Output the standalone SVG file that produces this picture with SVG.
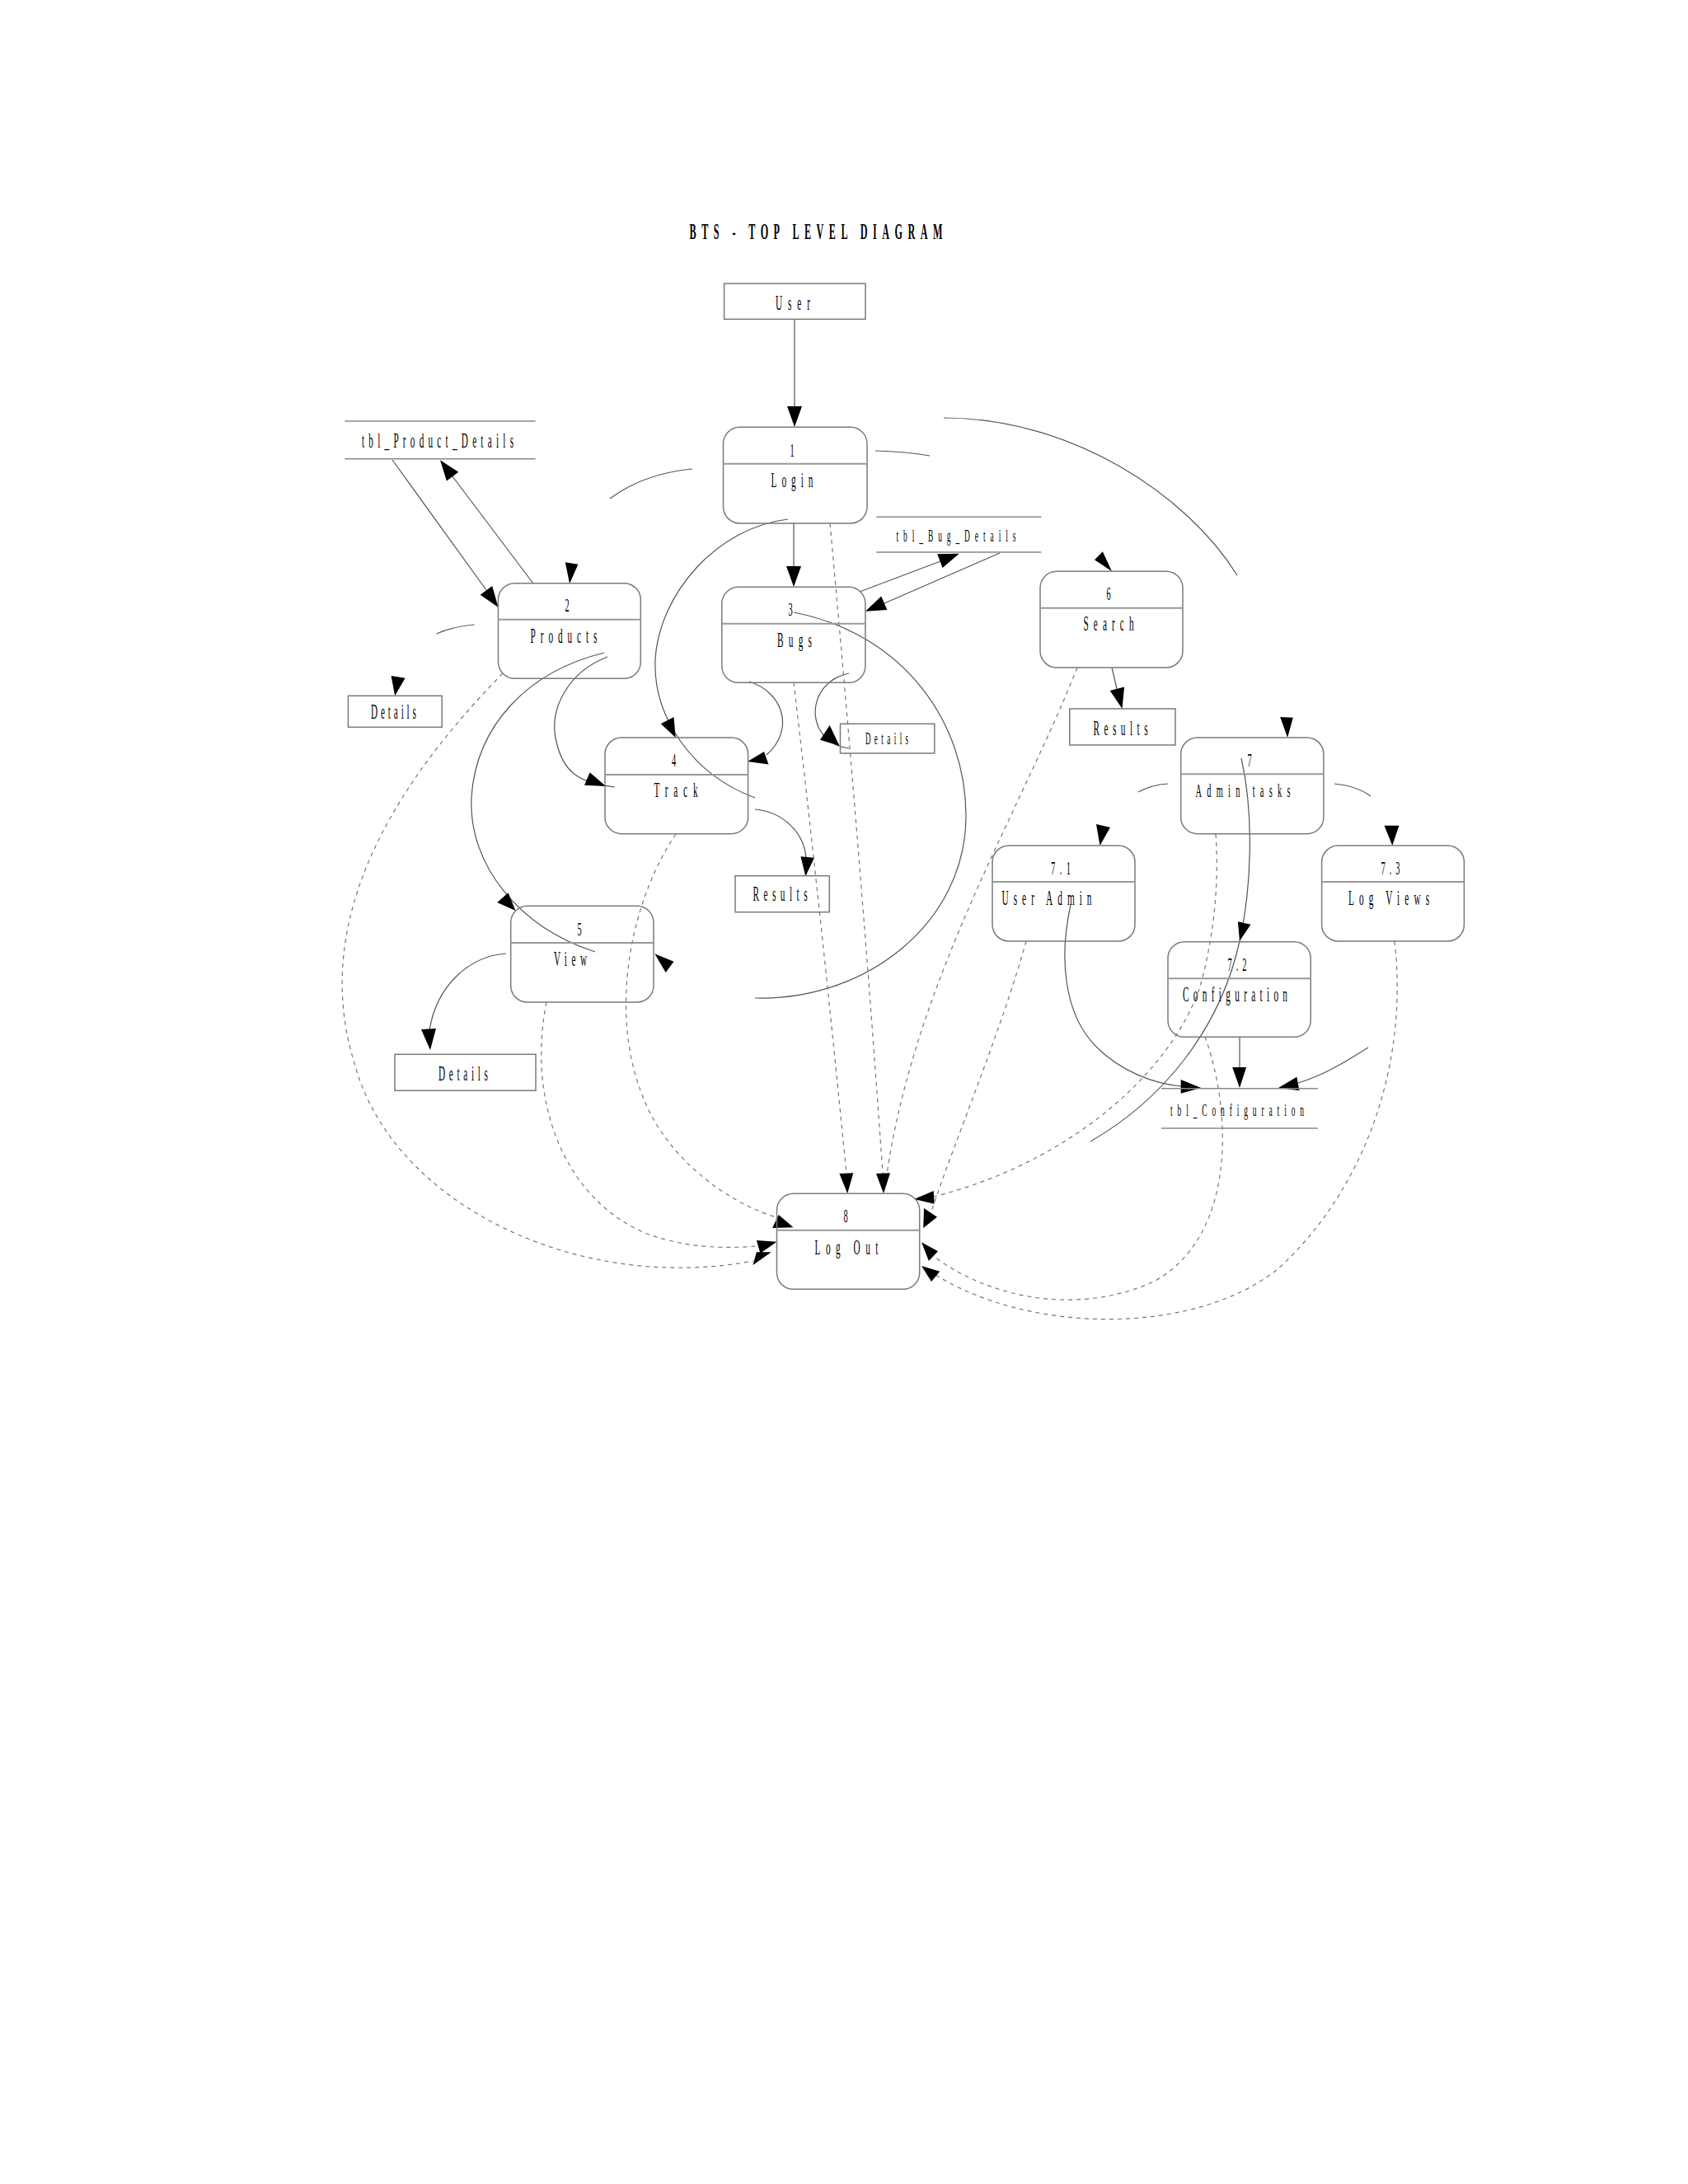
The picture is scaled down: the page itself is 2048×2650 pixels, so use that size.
<svg xmlns="http://www.w3.org/2000/svg" width="2048" height="2650" viewBox="0 0 2048 2650">
<style>
.box{fill:none;stroke:#7a7a7a;stroke-width:1.5}
.dv{stroke:#999;stroke-width:2}
.st{stroke:#888;stroke-width:1.6}
.e{fill:none;stroke:#555;stroke-width:1.2}
.d{fill:none;stroke:#777;stroke-width:1.2;stroke-dasharray:5 5}
.ah{fill:#000}
text{font-family:"Liberation Serif","Times New Roman",serif;font-size:25px;fill:#000;text-anchor:middle}
.n{font-size:23px}
.ttl{font-weight:bold;font-size:27px}
.sm{font-size:21px}
</style>
<rect width="2048" height="2650" fill="#fff"/>
<text class="ttl" transform="translate(990,290) scale(0.45,1)" textLength="682">BTS - TOP LEVEL DIAGRAM</text>

<g id="connectors">
<path class="e" d="M964,387 L964,494"/>
<polygon class="ah" points="964,518 955,493 973,493"/>
<path class="e" d="M963,635 L963,688"/>
<polygon class="ah" points="963,712 954,687 972,687"/>
<path class="e" d="M476,558 L590,716"/>
<polygon class="ah" points="604.5,736.7 582.6,721.7 597.2,711.1"/>
<path class="e" d="M647,708 L549,578"/>
<polygon class="ah" points="534,558.3 556.3,572.8 541.9,583.6"/>
<polygon class="ah" points="685.8,682.3 701.4,684.7 691.1,708.3"/>
<polygon class="ah" points="474.6,820 491.6,822.7 479.1,844.3"/>
<path class="e" d="M1043,718 L1141,681"/>
<polygon class="ah" points="1163.7,671.7 1143.6,689.1 1137.2,672.3"/>
<path class="e" d="M1213,671 L1073,732"/>
<polygon class="ah" points="1049.9,741.7 1069.2,723.5 1076.4,740"/>
<polygon class="ah" points="1337.8,669.3 1328,679.3 1349,693.3"/>
<path class="e" d="M1349,810 L1355,836"/>
<polygon class="ah" points="1361.5,860 1346.7,838 1364.1,833.6"/>
<path class="e" d="M1062,547 Q1100,548 1128,553"/>
<path class="e" d="M1145,507 C1300,507 1440,600 1501,698"/>
<path class="e" d="M840,569 Q780,575 740,605"/>
<path class="e" d="M529.5,769 Q550,760 575.5,758"/>
<path class="e" d="M1381,961 Q1398,952 1417,951"/>
<path class="e" d="M1619,951 Q1645,953 1663,966"/>
<path class="e" d="M956,630 C870,640 800,720 795,800 C792,870 840,940 916,968"/>
<polygon class="ah" points="801.8,878.3 817.5,870 819.7,895"/>
<path class="e" d="M737,797 C690,815 665,860 675,900 C683,935 700,950 746,955"/>
<polygon class="ah" points="715.7,937.3 709,952.7 735,954"/>
<path class="e" d="M733,792 C640,815 578,880 572,967 C568,1050 630,1125 722,1155"/>
<polygon class="ah" points="603.2,1095 616.6,1083.3 625.5,1105"/>
<path class="e" d="M909,827 C950,840 965,885 930,916"/>
<polygon class="ah" points="907,924 927,912 932.5,927.5"/>
<path class="e" d="M1030,817 C990,825 978,868 1000,893 Q1012,906 1030,908"/>
<polygon class="ah" points="1018.6,905 995,897.7 1006.6,880"/>
<path class="e" d="M916,982 C950,985 975,1010 978,1040"/>
<polygon class="ah" points="971.5,1039.3 988,1040.7 977.3,1063.3"/>
<polygon class="ah" points="794.3,1157.3 817.5,1166.7 807.7,1180"/>
<path class="e" d="M614,1157 C570,1160 530,1195 521,1250"/>
<polygon class="ah" points="511,1249 529,1248 522,1274"/>
<path class="e" d="M963,743 C1100,770 1172,880 1172,990 C1172,1120 1050,1215 916,1211"/>
<polygon class="ah" points="1553.2,870 1568.8,870.7 1562.1,895"/>
<polygon class="ah" points="1330,1000 1347,1004 1334.5,1026"/>
<polygon class="ah" points="1679.5,1001.7 1697.4,1001.7 1689.3,1026"/>
<path class="e" d="M1506,920 C1522,990 1518,1080 1504,1142 C1480,1250 1410,1335 1323,1385"/>
<polygon class="ah" points="1501.9,1118.3 1517.5,1121.7 1504,1141.7"/>
<path class="e" d="M1504,1258 L1504,1296"/>
<polygon class="ah" points="1495.2,1295 1512.1,1295 1504,1320"/>
<path class="e" d="M1299,1098 C1285,1160 1290,1230 1330,1270 C1360,1300 1400,1315 1433,1318"/>
<polygon class="ah" points="1432.7,1310 1432.7,1326.7 1457.2,1320"/>
<path class="e" d="M1660,1271 C1630,1290 1605,1305 1575,1314"/>
<polygon class="ah" points="1573.3,1306.7 1576.4,1323.3 1551,1320"/>

<path class="d" d="M1007,635 Q1045,1050 1071,1424"/>
<polygon class="ah" points="1063,1424 1080,1423.3 1072,1448.3"/>
<path class="d" d="M963,828 Q995,1100 1027,1424"/>
<polygon class="ah" points="1018.4,1424 1035.3,1423.3 1028.2,1448.3"/>
<path class="d" d="M1307,810 C1240,980 1110,1190 1076,1425"/>
<path class="d" d="M610,817 C460,970 380,1130 430,1290 C475,1460 700,1570 914,1530"/>
<polygon class="ah" points="913.5,1535 917.9,1519.3 935.8,1519.3"/>
<path class="d" d="M663,1216 C640,1330 680,1450 780,1495 C830,1515 880,1515 918,1512"/>
<polygon class="ah" points="917.9,1505 942.5,1506.7 922.4,1520.7"/>
<path class="d" d="M820,1012 C760,1100 730,1260 800,1370 C840,1430 900,1465 945,1478"/>
<polygon class="ah" points="944.7,1474 937.1,1490 962.5,1489.3"/>
<path class="d" d="M1475,1012 C1480,1080 1470,1150 1455,1200 C1420,1300 1300,1410 1133,1452"/>
<polygon class="ah" points="1109,1455 1132.7,1445 1133.6,1460.7"/>
<path class="d" d="M1245,1142 C1215,1250 1160,1380 1130,1470"/>
<polygon class="ah" points="1121,1466 1137,1476.7 1120.2,1490"/>
<path class="d" d="M1462,1258 C1495,1350 1500,1500 1400,1555 C1300,1600 1190,1570 1130,1522"/>
<polygon class="ah" points="1118,1507.3 1138,1518.3 1126.9,1530"/>
<path class="d" d="M1692,1142 C1710,1300 1650,1450 1550,1540 C1450,1620 1250,1620 1132,1545"/>
<polygon class="ah" points="1118,1536 1140.3,1542.7 1130,1555"/>
</g>

<g id="user">
<rect class="box" x="878.6" y="344" width="171.4" height="43.3"/>
<text transform="translate(962,376) scale(0.45,1)" textLength="93">User</text>
</g>
<g id="p1">
<rect class="box" x="877.5" y="518.3" width="174.5" height="116.7" rx="20" ry="20"/>
<line class="dv" x1="877.5" y1="562.7" x2="1052" y2="562.7"/>
<text class="n" transform="translate(961,554) scale(0.45,1)">1</text>
<text transform="translate(961,591) scale(0.45,1)" textLength="113">Login</text>
</g>
<g id="tblProduct">
<line class="st" x1="418.4" y1="511" x2="649.6" y2="511"/>
<line class="st" x1="418.4" y1="556.7" x2="649.6" y2="556.7"/>
<text transform="translate(531,543) scale(0.45,1)" textLength="409">tbl_Product_Details</text>
</g>
<g id="p2">
<rect class="box" x="604.5" y="707.7" width="172.8" height="115.6" rx="20" ry="20"/>
<line class="dv" x1="604.5" y1="751.7" x2="777.3" y2="751.7"/>
<text class="n" transform="translate(688,742) scale(0.45,1)">2</text>
<text transform="translate(684,780) scale(0.45,1)" textLength="180">Products</text>
</g>
<g id="details1">
<rect class="box" x="422.4" y="844.3" width="113.8" height="38"/>
<text transform="translate(477.5,872) scale(0.45,1)" textLength="122">Details</text>
</g>
<g id="p3">
<rect class="box" x="875.8" y="712.3" width="174.1" height="116" rx="20" ry="20"/>
<line class="dv" x1="875.8" y1="756.7" x2="1049.9" y2="756.7"/>
<text class="n" transform="translate(959,747) scale(0.45,1)">3</text>
<text transform="translate(964,785) scale(0.45,1)" textLength="93">Bugs</text>
</g>
<g id="tblBug">
<line class="st" x1="1063.3" y1="627.3" x2="1263.3" y2="627.3"/>
<line class="st" x1="1063.3" y1="670" x2="1263.3" y2="670"/>
<text class="sm" transform="translate(1160,657) scale(0.45,1)" textLength="322">tbl_Bug_Details</text>
</g>
<g id="details2">
<rect class="box" x="1019.5" y="878.3" width="114.3" height="35.7"/>
<text style="font-size:20px" transform="translate(1076,903) scale(0.45,1)" textLength="116">Details</text>
</g>
<g id="p6">
<rect class="box" x="1262" y="693.3" width="173" height="116.7" rx="20" ry="20"/>
<line class="dv" x1="1262" y1="737.7" x2="1435" y2="737.7"/>
<text class="n" transform="translate(1345,728) scale(0.45,1)">6</text>
<text transform="translate(1345,765) scale(0.45,1)" textLength="136">Search</text>
</g>
<g id="results1">
<rect class="box" x="1297.8" y="860" width="128.2" height="44"/>
<text transform="translate(1359.5,891.5) scale(0.45,1)" textLength="147">Results</text>
</g>
<g id="p4">
<rect class="box" x="734" y="895" width="173.6" height="116.7" rx="20" ry="20"/>
<line class="dv" x1="734" y1="940" x2="907.6" y2="940"/>
<text class="n" transform="translate(817.5,930) scale(0.45,1)">4</text>
<text transform="translate(820,967) scale(0.45,1)" textLength="118">Track</text>
</g>
<g id="results2">
<rect class="box" x="892" y="1062.7" width="114.3" height="44"/>
<text transform="translate(946.5,1093) scale(0.45,1)" textLength="147">Results</text>
</g>
<g id="p5">
<rect class="box" x="619.7" y="1099.3" width="173.3" height="116.7" rx="20" ry="20"/>
<line class="dv" x1="619.7" y1="1144" x2="793" y2="1144"/>
<text class="n" transform="translate(703,1135) scale(0.45,1)">5</text>
<text transform="translate(692,1172) scale(0.45,1)" textLength="89">View</text>
</g>
<g id="details3">
<rect class="box" x="479" y="1279.3" width="171" height="44"/>
<text transform="translate(562,1311) scale(0.45,1)" textLength="133">Details</text>
</g>
<g id="p7">
<rect class="box" x="1432.7" y="895" width="173.2" height="116.7" rx="20" ry="20"/>
<line class="dv" x1="1432.7" y1="939.3" x2="1605.9" y2="939.3"/>
<text class="n" transform="translate(1516,930) scale(0.45,1)">7</text>
<text style="font-size:23px" transform="translate(1508,967) scale(0.45,1)" textLength="256">Admin tasks</text>
</g>
<g id="p71">
<rect class="box" x="1204" y="1026" width="173" height="116" rx="20" ry="20"/>
<line class="dv" x1="1204" y1="1070" x2="1377" y2="1070"/>
<text class="n" transform="translate(1287,1061) scale(0.45,1)" textLength="53">7.1</text>
<text transform="translate(1270,1098) scale(0.45,1)" textLength="242">User Admin</text>
</g>
<g id="p73">
<rect class="box" x="1603.6" y="1026" width="172.8" height="116" rx="20" ry="20"/>
<line class="dv" x1="1603.6" y1="1070" x2="1776.4" y2="1070"/>
<text class="n" transform="translate(1687,1061) scale(0.45,1)" textLength="51">7.3</text>
<text transform="translate(1685,1098) scale(0.45,1)" textLength="218">Log Views</text>
</g>
<g id="p72">
<rect class="box" x="1417" y="1142.7" width="173.2" height="115.6" rx="20" ry="20"/>
<line class="dv" x1="1417" y1="1187.3" x2="1590.2" y2="1187.3"/>
<text class="n" transform="translate(1501,1178) scale(0.45,1)" textLength="51">7.2</text>
<text transform="translate(1498.5,1215) scale(0.45,1)" textLength="282">Configuration</text>
</g>
<g id="tblConfig">
<line class="st" x1="1409" y1="1320.7" x2="1599" y2="1320.7"/>
<line class="st" x1="1409" y1="1369" x2="1599" y2="1369"/>
<text class="sm" transform="translate(1501,1354) scale(0.45,1)" textLength="360">tbl_Configuration</text>
</g>
<g id="p8">
<rect class="box" x="942.5" y="1448.3" width="173.2" height="116" rx="20" ry="20"/>
<line class="dv" x1="942.5" y1="1492.7" x2="1115.7" y2="1492.7"/>
<text class="n" transform="translate(1026,1483) scale(0.45,1)">8</text>
<text transform="translate(1027,1522) scale(0.45,1)" textLength="171">Log Out</text>
</g>
</svg>
